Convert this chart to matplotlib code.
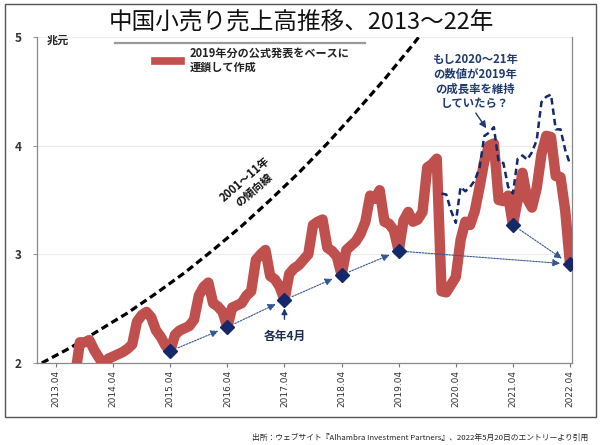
import matplotlib
matplotlib.use('Agg')
import matplotlib.pyplot as plt
import numpy as np
from matplotlib.lines import Line2D
from matplotlib.patches import Rectangle

plt.rcParams['font.family'] = ['Noto Sans CJK JP', 'DejaVu Sans']

# ---------------- data (trillion yuan) ----------------
tick_labels = ['2013.04', '2014.04', '2015.04', '2016.04', '2017.04',
               '2018.04', '2019.04', '2020.04', '2021.04', '2022.04']

# monthly retail sales (red), first value = Aug 2013
red_2013 = [1.88, 2.19, 2.19, 2.21, 2.12]
red_2014 = [2.05, 1.98, 2.04, 2.06, 2.08, 2.10, 2.13, 2.17, 2.38, 2.44, 2.47, 2.42]
red_2015 = [2.30, 2.24, 2.16, 2.11, 2.26, 2.30, 2.32, 2.34, 2.40, 2.62, 2.70, 2.74]
red_2016 = [2.55, 2.52, 2.47, 2.33, 2.51, 2.53, 2.55, 2.62, 2.66, 2.95, 3.00, 3.04]
red_2017 = [2.80, 2.77, 2.70, 2.58, 2.82, 2.87, 2.90, 2.95, 3.00, 3.27, 3.30, 3.32]
red_2018 = [3.06, 3.03, 2.98, 2.81, 3.04, 3.08, 3.12, 3.19, 3.30, 3.54, 3.51, 3.59]
red_2019 = [3.30, 3.28, 3.22, 3.03, 3.31, 3.39, 3.30, 3.32, 3.39, 3.80, 3.83, 3.88]
red_2020 = [2.66, 2.65, 2.72, 2.79, 3.13, 3.30, 3.27, 3.40, 3.62, 3.86, 4.00, 4.02]
red_2021 = [3.50, 3.49, 3.54, 3.27, 3.50, 3.75, 3.51, 3.43, 3.61, 3.92, 4.09, 4.08]
red_2022 = [3.72, 3.71, 3.40, 2.91]
red_first_month = 7          # months since Jan 2013

# hypothetical path (blue dashed), first value = Jan 2020
blue_2020 = [3.56, 3.55, 3.40, 3.29, 3.62, 3.58, 3.62, 3.68, 3.80, 4.09, 4.12, 4.17]
blue_2021 = [3.85, 3.84, 3.62, 3.56, 3.88, 3.91, 3.87, 3.94, 4.05, 4.40, 4.45, 4.47]
blue_2022 = [4.15, 4.15, 3.96, 3.83]
blue_first_month = 84

# 2001-11 trend line (black dashed)
trend_month = [0, 6, 12, 18, 24, 30, 36, 42, 48, 54, 60, 66, 72, 78, 81]
trend_value = [2.00, 2.14, 2.30, 2.46, 2.64, 2.83, 3.04, 3.26, 3.50, 3.75, 4.02, 4.31, 4.61, 4.93, 5.10]

# April markers and arrows
marker_years = [2015, 2016, 2017, 2018, 2019, 2021, 2022]
arrow_pairs = [(2015, 2016), (2016, 2017), (2017, 2018), (2018, 2019),
               (2019, 2022), (2021, 2022)]

# ---------------- build ----------------
red = red_2013 + red_2014 + red_2015 + red_2016 + red_2017 + red_2018 + \
      red_2019 + red_2020 + red_2021 + red_2022
red_x = np.arange(red_first_month, red_first_month + len(red))
blue = blue_2020 + blue_2021 + blue_2022
blue_x = np.arange(blue_first_month, blue_first_month + len(blue))


def april(year):
    m = (year - 2013) * 12 + 3
    return m, red[m - red_first_month]


RED = '#C0504D'
NAVY = '#14286a'
ARROW = '#34578f'

fig = plt.figure(figsize=(6.0, 4.45), dpi=100)
ax = fig.add_axes([0.0617, 0.1843, 0.8911, 0.7326])

ax.set_xlim(-1.0, 111.35)
ax.set_ylim(2, 5)

ax.yaxis.grid(True, color='#ececec', lw=0.8)
ax.set_axisbelow(True)

ax.plot(trend_month, trend_value, color='black', lw=2.3, dashes=(2.3, 1.3), zorder=2)
ax.plot(red_x, red, color=RED, lw=7.5, solid_joinstyle='round',
        solid_capstyle='butt', zorder=3)
ax.plot(blue_x, blue, color=NAVY, lw=1.8, dashes=(2.6, 1.6), zorder=4)

for y1, y2 in arrow_pairs:
    x1, v1 = april(y1)
    x2, v2 = april(y2)
    ax.annotate('', xy=(x2, v2), xytext=(x1, v1),
                arrowprops=dict(arrowstyle='-|>,head_length=0.45,head_width=0.22',
                                color=ARROW, lw=0.8, ls=(0, (1.5, 1.2)),
                                shrinkA=6, shrinkB=7), zorder=4)

mx = [april(y)[0] for y in marker_years]
mv = [april(y)[1] for y in marker_years]
ax.plot(mx, mv, linestyle='none', marker='D', ms=7, color=NAVY, zorder=6)

# axes styling
ax.set_xticks([3 + 12 * i for i in range(len(tick_labels))])
ax.set_xticklabels(tick_labels, rotation=90, fontsize=6.5, color='#333333',
                   family=['Liberation Sans Narrow', 'DejaVu Sans'])
ax.set_yticks([2, 3, 4, 5])
ax.set_yticklabels(['2', '3', '4', '5'], fontsize=8.5, fontweight='bold', color='#333333')
ax.tick_params(axis='x', length=3, width=0.8, color='#777777', pad=2)
ax.tick_params(axis='y', length=3, width=0.8, color='#999999', pad=8)
for s in ['left', 'bottom', 'right']:
    ax.spines[s].set_color('#8a8a8a')
    ax.spines[s].set_linewidth(0.9)
ax.spines['top'].set_visible(False)

# legend
leg = ax.legend(handles=[Line2D([0], [0], color=RED, lw=5.5)],
                labels=['2019年分の公式発表をベースに\n連鎖して作成'],
                loc='upper left', bbox_to_anchor=(155 / 600, 1 - 47 / 445),
                bbox_transform=fig.transFigure, frameon=False,
                fontsize=8, handlelength=2.3, handletextpad=0.8,
                borderpad=0, borderaxespad=0)
for t in leg.get_texts():
    t.set_color('#222222')
    t.set_fontweight('bold')
    t.set_linespacing(1.05)

# annotations
ax.text(43.6, 3.64, '2001～11年\nの傾向線', rotation=41, ha='center', va='center',
        rotation_mode='anchor', fontsize=8, fontweight='bold', color='#111111',
        linespacing=1.1)

ax.text(91.0, 4.59, 'もし2020～21年\nの数値が2019年\nの成長率を維持\nしていたら？',
        ha='center', va='center', fontsize=8.2, fontweight='bold', color='#1f3a6e',
        linespacing=1.15)
ax.annotate('', xy=(93.4, 4.16), xytext=(91.2, 4.30),
            arrowprops=dict(arrowstyle='-|>,head_length=0.4,head_width=0.2',
                            color='#1f3a6e', lw=1.0, shrinkA=0, shrinkB=0))

kx, kv = april(2017)
ax.annotate('各年4月', xy=(kx, kv), xytext=(kx, 2.24),
            ha='center', va='center', fontsize=8.5, fontweight='bold', color='#1f2d50',
            arrowprops=dict(arrowstyle='-|>,head_length=0.4,head_width=0.2',
                            color='#1f3a6e', lw=1.0, shrinkA=6, shrinkB=6))

# figure-level texts
fig.text(0.502, 0.951, '中国小売り売上高推移、2013～22年', ha='center', va='center',
         fontsize=17, color='#111111')
fig.add_artist(Line2D([115 / 600, 365 / 600], [1 - 43 / 445, 1 - 43 / 445],
                      color='#9a9a9a', lw=1.6, transform=fig.transFigure))
fig.text(58 / 600, 1 - 40 / 445, '兆元', ha='center', va='center', fontsize=8,
         fontweight='bold', color='#222222')
fig.text(588 / 600, 1 - 438 / 445,
         '出所：ウェブサイト『Alhambra Investment Partners』、2022年5月20日のエントリーより引用',
         ha='right', va='center', fontsize=5.6, color='#222222')
fig.add_artist(Rectangle((5 / 600, 1 - 417 / 445), 591 / 600, 413 / 445,
                         transform=fig.transFigure, fill=False,
                         edgecolor='#555555', lw=1.0))

fig.savefig('out.png', dpi=100)
